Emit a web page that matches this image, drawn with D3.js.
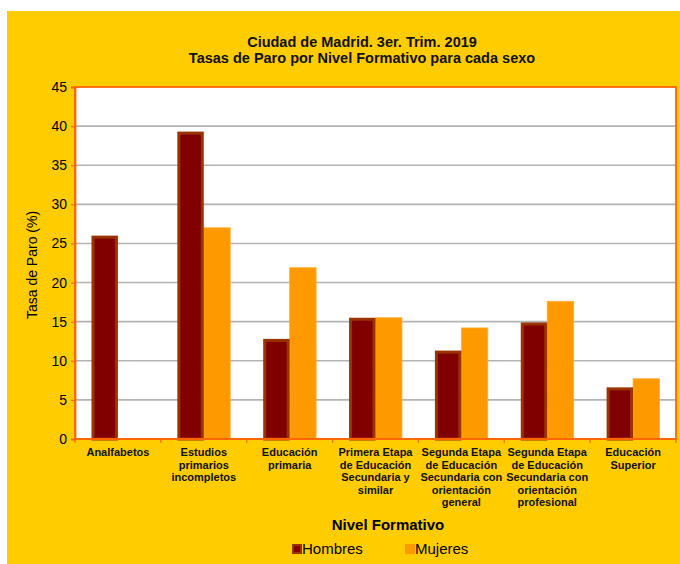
<!DOCTYPE html>
<html><head><meta charset="utf-8">
<script src="https://cdn.jsdelivr.net/npm/d3@7"></script>
<style>html,body{margin:0;padding:0;background:#fff;}svg{display:block;font-family:"Liberation Sans",Arial,sans-serif;}</style>
</head><body>
<svg id="c" width="680" height="564"></svg>
<script>
const categories = [
  ["Analfabetos"],
  ["Estudios","primarios","incompletos"],
  ["Educación","primaria"],
  ["Primera Etapa","de Educación","Secundaria y","similar"],
  ["Segunda Etapa","de Educación","Secundaria con","orientación","general"],
  ["Segunda Etapa","de Educación","Secundaria con","orientación","profesional"],
  ["Educación","Superior"]
];
const seriesNames = ["Hombres","Mujeres"];
const hombres = [26.0, 39.3, 12.8, 15.5, 11.3, 14.9, 6.6];
const mujeres = [0, 27.0, 21.9, 15.5, 14.2, 17.6, 7.7];
const yTicks = [0,5,10,15,20,25,30,35,40,45];
const titleLines = ["Ciudad de Madrid. 3er. Trim. 2019","Tasas de Paro por Nivel Formativo para cada sexo"];

const svg = d3.select("#c");
const L=75, R=676, T=87, B=439;
svg.append("rect").attr("x",7).attr("y",11).attr("width",673).attr("height",553).attr("fill","#FFCC00");
svg.append("rect").attr("x",L).attr("y",T).attr("width",R-L).attr("height",B-T).attr("fill","#fff");

const y = d3.scaleLinear().domain([0,45]).range([B,T]);
const idx = d3.range(categories.length);
const x0 = d3.scaleBand().domain(idx).range([L,R]).paddingInner(0.384).paddingOuter(0.192);
const x1 = d3.scaleBand().domain(seriesNames).range([0,x0.bandwidth()]);

// gridlines
svg.append("g").selectAll("line").data(yTicks.filter(d=>d>0&&d<45)).join("line")
  .attr("x1",L).attr("x2",R).attr("y1",d=>y(d)).attr("y2",d=>y(d))
  .attr("stroke","#b3b3b3").attr("stroke-width",1.6);

// bars
const data = idx.map(i=>({i, vals:[hombres[i],mujeres[i]]}));
const g = svg.append("g").selectAll("g").data(data).join("g").attr("transform",d=>`translate(${x0(d.i)},0)`);
g.append("rect")
  .attr("x",x1("Mujeres")).attr("width",x1.bandwidth())
  .attr("y",d=>y(d.vals[1])).attr("height",d=>B-y(d.vals[1]))
  .attr("fill","#FF9900").attr("stroke","#FFB030").attr("stroke-width",d=>d.vals[1]>0?0.8:0);
g.append("rect")
  .attr("x",x1("Hombres")+1.5).attr("width",x1.bandwidth()-3)
  .attr("y",d=>y(d.vals[0])+1.5).attr("height",d=>B-y(d.vals[0])-1.5)
  .attr("fill","#800000").attr("stroke","#993300").attr("stroke-width",3);

// plot border
svg.append("rect").attr("x",L).attr("y",T).attr("width",R-L).attr("height",B-T)
  .attr("fill","none").attr("stroke","#FF6600").attr("stroke-width",1.8);

// y axis
const ya = d3.axisLeft(y).tickValues(yTicks).tickSize(4).tickPadding(4);
const yg = svg.append("g").attr("transform",`translate(${L},0)`).call(ya);
yg.select(".domain").attr("stroke","#FF6600").attr("stroke-width",1.8);
yg.selectAll(".tick line").attr("stroke","#FF6600").attr("stroke-width",1.2);
yg.selectAll(".tick text").attr("font-size",14).attr("fill","#000").attr("font-family","Liberation Sans, Arial, sans-serif");

// x axis with category boundary ticks
const xa = svg.append("g");
xa.append("line").attr("x1",L).attr("x2",R).attr("y1",B).attr("y2",B).attr("stroke","#FF6600").attr("stroke-width",1.8);
xa.selectAll("line.t").data(d3.range(categories.length+1)).join("line").attr("class","t")
  .attr("x1",d=>L+d*x0.step()).attr("x2",d=>L+d*x0.step()).attr("y1",B).attr("y2",B+4)
  .attr("stroke","#FF6600").attr("stroke-width",1.2);
const lab = svg.append("g").selectAll("text").data(idx).join("text")
  .attr("x",i=>x0(i)+x0.bandwidth()/2).attr("y",456)
  .attr("text-anchor","middle").attr("font-size",11).attr("font-weight","bold").attr("fill","#111");
lab.selectAll("tspan").data(i=>categories[i]).join("tspan")
  .attr("x",function(){return this.parentNode.getAttribute("x");})
  .attr("dy",(d,j)=>j===0?0:12.6).text(d=>d);

// titles
svg.append("g").selectAll("text").data(titleLines).join("text")
  .attr("x",362).attr("y",(d,i)=>47+i*16).attr("text-anchor","middle")
  .attr("font-size",14.5).attr("font-weight","bold").attr("fill","#111").text(d=>d);

// axis titles
svg.append("text").attr("transform","translate(37,265) rotate(-90)").attr("text-anchor","middle")
  .attr("font-size",14).attr("fill","#000").text("Tasa de Paro (%)");
svg.append("text").attr("x",388).attr("y",530).attr("text-anchor","middle")
  .attr("font-size",15).attr("font-weight","bold").attr("fill","#000").text("Nivel Formativo");

// legend
const legX = [292, 405];
const lg = svg.append("g").selectAll("g").data(seriesNames).join("g").attr("transform",(d,i)=>`translate(${legX[i]},544)`);
lg.append("rect").attr("x",1).attr("y",1).attr("width",8).attr("height",8)
  .attr("fill",(d,i)=>i===0?"#800000":"#FF9900").attr("stroke",(d,i)=>i===0?"#993300":"#FF9900").attr("stroke-width",2);
lg.append("text").attr("x",10).attr("y",10).attr("font-size",15).attr("fill","#000").text(d=>d);
</script>
</body></html>
